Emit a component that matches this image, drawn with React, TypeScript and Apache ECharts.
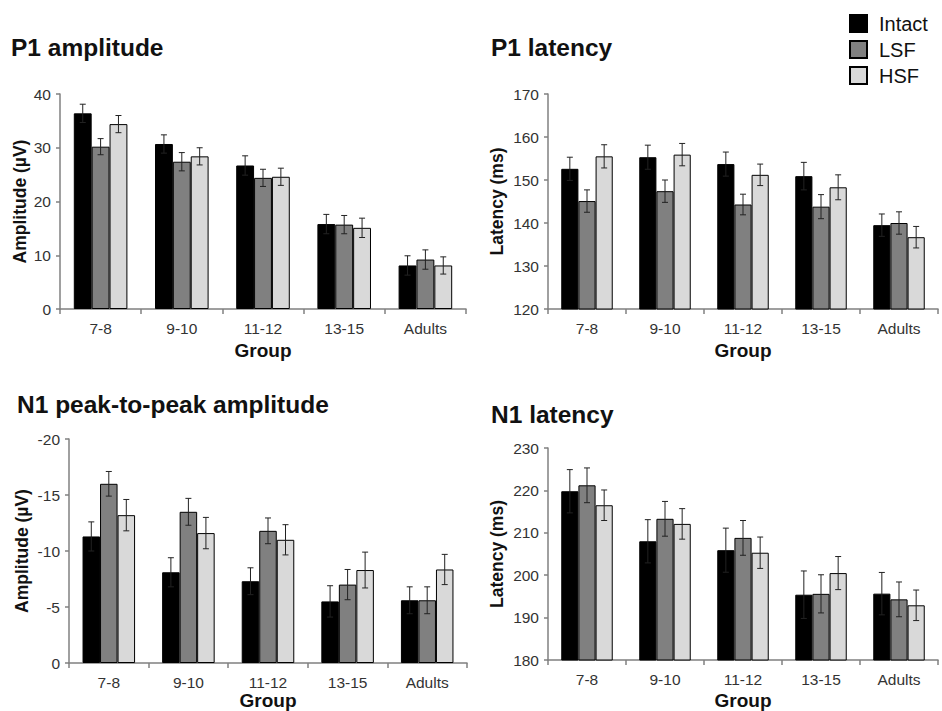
import React, { useEffect, useRef } from "react";
import * as echarts from "echarts";

const categories = ["7-8", "9-10", "11-12", "13-15", "Adults"];
const conditions = ["Intact", "LSF", "HSF"];

// P1 amplitude (µV)
const p1AmpIntact = [36.4, 30.7, 26.7, 15.8, 8.1];
const p1AmpIntactErr = [1.7, 1.7, 1.8, 1.8, 1.8];
const p1AmpLSF = [30.2, 27.4, 24.4, 15.7, 9.2];
const p1AmpLSFErr = [1.5, 1.7, 1.6, 1.7, 1.8];
const p1AmpHSF = [34.4, 28.4, 24.6, 15.1, 8.1];
const p1AmpHSFErr = [1.6, 1.6, 1.6, 1.8, 1.6];

// P1 latency (ms)
const p1LatIntact = [152.6, 155.3, 153.7, 150.9, 139.5];
const p1LatIntactErr = [2.7, 2.8, 2.8, 3.2, 2.6];
const p1LatLSF = [145.1, 147.4, 144.3, 143.8, 140.0];
const p1LatLSFErr = [2.6, 2.6, 2.4, 2.8, 2.6];
const p1LatHSF = [155.5, 155.9, 151.2, 148.3, 136.7];
const p1LatHSFErr = [2.7, 2.6, 2.5, 2.9, 2.5];

// N1 peak-to-peak amplitude (µV)
const n1AmpIntact = [-11.3, -8.1, -7.3, -5.5, -5.6];
const n1AmpIntactErr = [1.3, 1.3, 1.2, 1.4, 1.2];
const n1AmpLSF = [-16.0, -13.5, -11.8, -7.0, -5.6];
const n1AmpLSFErr = [1.1, 1.2, 1.15, 1.35, 1.2];
const n1AmpHSF = [-13.2, -11.6, -11.0, -8.3, -8.35];
const n1AmpHSFErr = [1.4, 1.4, 1.35, 1.6, 1.35];

// N1 latency (ms)
const n1LatIntact = [219.8, 208.0, 205.9, 195.4, 195.65];
const n1LatIntactErr = [5.1, 5.1, 5.2, 5.6, 5.0];
const n1LatLSF = [221.2, 213.3, 208.8, 195.6, 194.3];
const n1LatLSFErr = [4.1, 4.1, 4.1, 4.5, 4.1];
const n1LatHSF = [216.5, 212.1, 205.3, 200.5, 192.9];
const n1LatHSFErr = [3.6, 3.6, 3.7, 3.9, 3.6];

const FONT = "'Liberation Sans', Arial, sans-serif";
const COLORS = ["#000000", "#808080", "#d9d9d9"];
const BAR_FRAC = 0.22;
const AXIS_COLOR = "#808080";

const panels = [
  {
    title: "P1 amplitude", yName: "Amplitude (µV)", min: 0, max: 40, interval: 10, inverse: false,
    values: [p1AmpIntact, p1AmpLSF, p1AmpHSF], errs: [p1AmpIntactErr, p1AmpLSFErr, p1AmpHSFErr],
    grid: { left: 60, top: 94, width: 406, height: 215 }, title_pos: { left: 11, top: 35 },
    yNameGap: 31, xNameGap: 32,
  },
  {
    title: "P1 latency", yName: "Latency (ms)", min: 120, max: 170, interval: 10, inverse: false,
    values: [p1LatIntact, p1LatLSF, p1LatHSF], errs: [p1LatIntactErr, p1LatLSFErr, p1LatHSFErr],
    grid: { left: 548, top: 94, width: 390, height: 215 }, title_pos: { left: 491, top: 35 },
    yNameGap: 42, xNameGap: 32,
  },
  {
    title: "N1 peak-to-peak amplitude", yName: "Amplitude (µV)", min: -20, max: 0, interval: 5, inverse: true,
    values: [n1AmpIntact, n1AmpLSF, n1AmpHSF], errs: [n1AmpIntactErr, n1AmpLSFErr, n1AmpHSFErr],
    grid: { left: 69, top: 439, width: 398, height: 224 }, title_pos: { left: 17, top: 392 },
    yNameGap: 38, xNameGap: 28,
  },
  {
    title: "N1 latency", yName: "Latency (ms)", min: 180, max: 230, interval: 10, inverse: false,
    values: [n1LatIntact, n1LatLSF, n1LatHSF], errs: [n1LatIntactErr, n1LatLSFErr, n1LatHSFErr],
    grid: { left: 548, top: 448, width: 390, height: 215 }, title_pos: { left: 491, top: 402 },
    yNameGap: 42, xNameGap: 31,
  },
];

function makeErrRender(idx: number) {
  return (params: any, api: any) => {
    const c = api.value(0);
    const lo = api.coord([c, api.value(1)]);
    const hi = api.coord([c, api.value(2)]);
    const band = api.size([1, 0])[0];
    const x = lo[0] + (idx - 1) * band * BAR_FRAC;
    const cap = 3;
    const style = { stroke: "#222222", lineWidth: 1 };
    return {
      type: "group",
      children: [
        { type: "line", shape: { x1: x, y1: lo[1], x2: x, y2: hi[1] }, style },
        { type: "line", shape: { x1: x - cap, y1: lo[1], x2: x + cap, y2: lo[1] }, style },
        { type: "line", shape: { x1: x - cap, y1: hi[1], x2: x + cap, y2: hi[1] }, style },
      ],
    };
  };
}

function buildOption() {
  const grids: any[] = [];
  const xAxes: any[] = [];
  const yAxes: any[] = [];
  const titles: any[] = [];
  const series: any[] = [];

  panels.forEach((p, gi) => {
    grids.push({ ...p.grid, containLabel: false });
    titles.push({
      text: p.title,
      left: p.title_pos.left,
      top: p.title_pos.top,
      padding: 0,
      textStyle: { fontSize: 24.5, fontWeight: "bold", color: "#111111", fontFamily: FONT },
    });
    xAxes.push({
      type: "category",
      gridIndex: gi,
      data: categories,
      name: "Group",
      nameLocation: "middle",
      nameGap: p.xNameGap,
      nameTextStyle: { fontSize: 19, fontWeight: "bold", color: "#111111", fontFamily: FONT },
      axisLine: { show: true, lineStyle: { color: AXIS_COLOR, width: 1.5 } },
      axisTick: { show: true, length: 5, lineStyle: { color: AXIS_COLOR, width: 1.5 } },
      axisLabel: { fontSize: 15.5, color: "#333333", fontFamily: FONT, margin: 11 },
      splitLine: { show: false },
    });
    yAxes.push({
      type: "value",
      gridIndex: gi,
      min: p.min,
      max: p.max,
      interval: p.interval,
      inverse: p.inverse,
      name: p.yName,
      nameLocation: "middle",
      nameGap: p.yNameGap,
      nameTextStyle: { fontSize: 17.5, fontWeight: "bold", color: "#111111", fontFamily: FONT },
      axisLine: { show: true, lineStyle: { color: AXIS_COLOR, width: 1.5 } },
      axisTick: { show: true, length: 4, lineStyle: { color: AXIS_COLOR, width: 1.5 } },
      axisLabel: { fontSize: 15.5, color: "#333333", fontFamily: FONT, margin: 9 },
      splitLine: { show: false },
    });
    conditions.forEach((name, si) => {
      series.push({
        type: "bar",
        name,
        xAxisIndex: gi,
        yAxisIndex: gi,
        data: p.values[si],
        barWidth: BAR_FRAC * 100 + "%",
        barGap: "0%",
        itemStyle: { color: COLORS[si], borderColor: "#000000", borderWidth: 1 },
        emphasis: { disabled: true },
      });
    });
    conditions.forEach((name, si) => {
      series.push({
        type: "custom",
        name: name + " SE",
        xAxisIndex: gi,
        yAxisIndex: gi,
        silent: true,
        z: 10,
        data: p.values[si].map((v, i) => [i, v - p.errs[si][i], v + p.errs[si][i]]),
        encode: { x: 0, y: [1, 2] },
        renderItem: makeErrRender(si),
      });
    });
  });

  return {
    animation: false,
    backgroundColor: "#ffffff",
    title: titles,
    legend: {
      data: conditions,
      orient: "vertical",
      left: 849,
      top: 13.5,
      padding: 0,
      itemWidth: 17,
      itemHeight: 17,
      itemGap: 6,
      icon: "rect",
      selectedMode: false,
      textStyle: { fontSize: 20, color: "#111111", fontFamily: FONT, lineHeight: 17, padding: [0, 0, 0, 7] },
    },
    grid: grids,
    xAxis: xAxes,
    yAxis: yAxes,
    series,
  };
}

export default function App() {
  const ref = useRef<HTMLDivElement>(null);
  useEffect(() => {
    document.body.style.margin = "0";
    if (!ref.current) return;
    const chart = echarts.init(ref.current, undefined, { renderer: "svg" });
    chart.setOption(buildOption() as any);
    return () => chart.dispose();
  }, []);
  return <div ref={ref} style={{ width: 942, height: 711, position: "absolute", left: 0, top: 0 }} />;
}
